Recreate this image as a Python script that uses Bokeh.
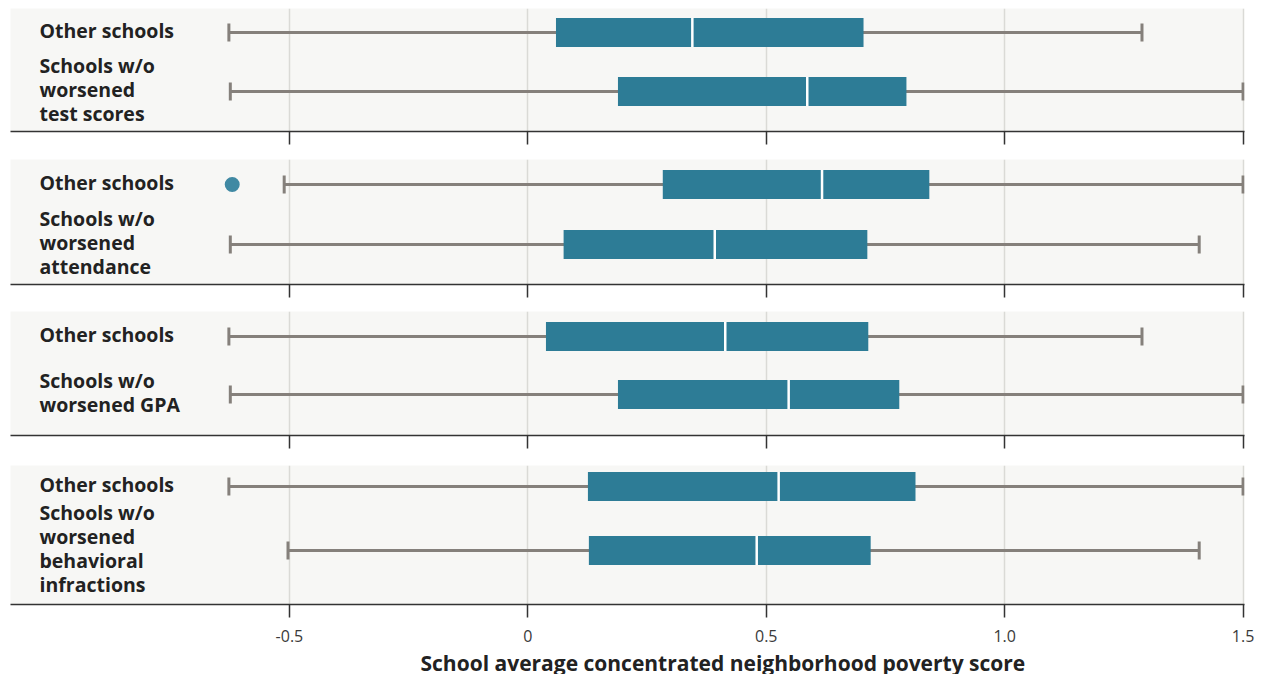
from bokeh.plotting import figure
from bokeh.layouts import column
from bokeh.models import Range1d, FixedTicker, ColumnDataSource, Title
from bokeh.core.properties import value
from bokeh.embed import file_html
from bokeh.resources import INLINE

# ---------------- data ----------------
panel_labels = [
    ["Other schools", "Schools w/o\nworsened\ntest scores"],
    ["Other schools", "Schools w/o\nworsened\nattendance"],
    ["Other schools", "Schools w/o\nworsened GPA"],
    ["Other schools", "Schools w/o\nworsened\nbehavioral\ninfractions"],
]
lows = [[-0.627, -0.624], [-0.511, -0.624], [-0.627, -0.624], [-0.627, -0.503]]
q1s = [[0.059, 0.189], [0.283, 0.075], [0.038, 0.189], [0.126, 0.128]]
medians = [[0.345, 0.586], [0.617, 0.392], [0.414, 0.547], [0.526, 0.480]]
q3s = [[0.704, 0.794], [0.842, 0.712], [0.714, 0.779], [0.813, 0.719]]
highs = [[1.288, 1.500], [1.500, 1.408], [1.288, 1.500], [1.500, 1.408]]
outliers = [[[], []], [[-0.620], []], [[], []], [[], []]]

tick_values = [-0.5, 0, 0.5, 1.0, 1.5]
tick_labels = ["-0.5", "0", "0.5", "1.0", "1.5"]
x_title = "School average concentrated neighborhood poverty score"

# ---------------- style ----------------
BOX = "#2d7c96"
OUT = "#4089a3"
WHISK = "#85807b"
BG = "#f7f7f5"
AXIS = "#333333"
GRID = "#dadad6"
LABEL_FONT = "Open Sans"

frame_heights = [123, 125, 124, 139]
top_borders = [8, 0, 0, 0]
top_off = [24, 25, 25, 21]
bot_off = [40, 40, 41, 54]
bottom_borders = [28, 27, 30, 68]
BOX_PX = 29

x_range = Range1d(-1.085, 1.503)
figs = []
for i in range(4):
    spacing = frame_heights[i] - top_off[i] - bot_off[i]
    ystart = 1 + bot_off[i] / spacing
    yend = -top_off[i] / spacing
    last = (i == 3)
    p = figure(width=1262, height=top_borders[i] + frame_heights[i] + bottom_borders[i],
               x_range=x_range, y_range=Range1d(ystart, yend),
               output_backend="svg", toolbar_location=None,
               min_border_left=10, min_border_right=18, min_border_top=top_borders[i],
               min_border_bottom=bottom_borders[i],
               background_fill_color=BG, border_fill_color="white",
               outline_line_color=None)
    p.frame_height = frame_heights[i]
    p.frame_width = 1234
    p.yaxis.visible = False
    p.ygrid.visible = False
    p.xaxis.ticker = FixedTicker(ticks=tick_values)
    p.xaxis.major_label_overrides = {v: l for v, l in zip(tick_values, tick_labels)}
    p.xaxis.axis_line_color = AXIS
    p.xaxis.axis_line_width = 1.5
    p.xaxis.major_tick_line_color = AXIS
    p.xaxis.major_tick_line_width = 1.5
    p.xaxis.major_tick_out = 13
    p.xaxis.major_tick_in = 0
    p.xaxis.minor_tick_line_color = None
    if last:
        p.xaxis.major_label_text_font = LABEL_FONT
        p.xaxis.major_label_text_font_size = "16px"
        p.xaxis.major_label_text_color = "#3a3a3a"
        p.xaxis.major_label_standoff = 12
    else:
        p.xaxis.major_label_text_font_size = "0px"
        p.xaxis.major_label_standoff = 0
    p.xgrid.ticker = FixedTicker(ticks=tick_values)
    p.xgrid.grid_line_color = GRID
    p.xgrid.grid_line_width = 1.5

    ys = [0, 1]
    h = BOX_PX / spacing
    src = ColumnDataSource(dict(
        y=ys, low=lows[i], q1=q1s[i], med=medians[i], q3=q3s[i], high=highs[i],
        y0=[y - h / 2 for y in ys], y1=[y + h / 2 for y in ys],
        c0=[y - 9 / spacing for y in ys], c1=[y + 9 / spacing for y in ys],
        label=panel_labels[i], lx=[x_range.start] * 2,
    ))
    p.segment(x0="low", y0="y", x1="high", y1="y", source=src,
              line_color=WHISK, line_width=3)
    p.segment(x0="low", y0="c0", x1="low", y1="c1", source=src,
              line_color=WHISK, line_width=3)
    p.segment(x0="high", y0="c0", x1="high", y1="c1", source=src,
              line_color=WHISK, line_width=3)
    p.hbar(y="y", left="q1", right="q3", height=h, source=src,
           fill_color=BOX, line_color=None)
    p.segment(x0="med", y0="y0", x1="med", y1="y1", source=src,
              line_color="white", line_width=2.5)
    ox, oy = [], []
    for j, o in enumerate(outliers[i]):
        ox += o
        oy += [ys[j]] * len(o)
    if ox:
        p.scatter(x=ox, y=oy, size=15, fill_color=OUT, line_color=None)
    p.text(x="lx", y="y", text="label", source=src, x_offset=29, y_offset=-2,
           text_font=value(LABEL_FONT), text_font_style="bold",
           text_font_size="19.5px", text_color="#222222",
           text_baseline="middle", text_align="left", text_line_height=0.9)
    if last:
        t = Title(text=x_title, align="left", offset=410,
                  text_font=LABEL_FONT, text_font_size="21px",
                  text_font_style="bold", text_color="#222222", standoff=4)
        p.add_layout(t, "below")
    figs.append(p)

layout = column(*figs, spacing=0)
open("out.html", "w").write(file_html(layout, INLINE))
